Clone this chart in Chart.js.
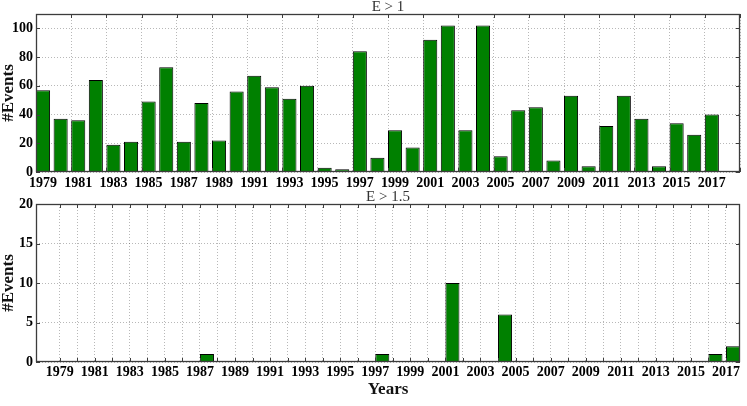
<!DOCTYPE html>
<html>
<head>
<meta charset="utf-8">
<script src="https://cdn.jsdelivr.net/npm/chart.js@4.4.1/dist/chart.umd.min.js"></script>
<style>
  html,body{margin:0;padding:0;background:#fff;}
  #wrap{position:relative;width:747px;height:406px;overflow:hidden;background:#fff;}
  .panel{position:absolute;left:0;width:747px;}
  #top{top:0;height:195px;}
  #bottom{top:190px;height:216px;}
</style>
</head>
<body>
<div id="wrap">
  <div class="panel" id="top"><canvas id="chartTop"></canvas></div>
  <div class="panel" id="bottom"><canvas id="chartBottom"></canvas></div>
</div>
<script>
/* ---------------------------------
   Data
--------------------------------- */
const years = [1979,1980,1981,1982,1983,1984,1985,1986,1987,1988,
               1989,1990,1991,1992,1993,1994,1995,1996,1997,1998,
               1999,2000,2001,2002,2003,2004,2005,2006,2007,2008,
               2009,2010,2011,2012,2013,2014,2015,2016,2017];

// E > 1
const eventsE1 = [57,37,36,64,19,21,49,73,21,48,
                  22,56,67,59,51,60,3,2,84,10,
                  29,17,92,102,29,102,11,43,45,8,
                  53,4,32,53,37,4,34,26,40];

// E > 1.5
const eventsE15 = [0,0,0,0,0,0,0,0,1,0,
                   0,0,0,0,0,0,0,0,1,0,
                   0,0,10,0,0,6,0,0,0,0,
                   0,0,0,0,0,0,0,1,2];

const xTickLabels = ["1979","1981","1983","1985","1987","1989","1991","1993","1995","1997",
                     "1999","2001","2003","2005","2007","2009","2011","2013","2015","2017"];
const yTicksTop = [0,20,40,60,80,100];
const yTicksBottom = [0,5,10,15,20];

/* ---------------------------------
   Shared style
--------------------------------- */
const SERIF = '"Liberation Serif", "Times New Roman", serif';
const GREEN = "#008000";
const BAR_W = 0.8;          // bars drawn edge-aligned, like matplotlib align='edge'

function toPoints(vals){
  return years.map((y,i)=>({ x: y + BAR_W/2, y: vals[i] }));
}

// axes frame + inward tick marks
const frame = {
  id: "frame",
  afterDraw(chart){
    const {ctx, chartArea:a, scales} = chart;
    ctx.save();
    ctx.strokeStyle = "#3c3c3c";
    ctx.lineWidth = 1;
    ctx.beginPath();
    scales.x.ticks.forEach(t=>{
      const px = Math.round(scales.x.getPixelForValue(t.value)) + 0.5;
      ctx.moveTo(px, a.top); ctx.lineTo(px, a.top + 4);
      ctx.moveTo(px, a.bottom); ctx.lineTo(px, a.bottom - 4);
    });
    scales.y.ticks.forEach(t=>{
      const py = Math.round(scales.y.getPixelForValue(t.value)) + 0.5;
      ctx.moveTo(a.left, py); ctx.lineTo(a.left + 4, py);
      ctx.moveTo(a.right, py); ctx.lineTo(a.right - 4, py);
    });
    ctx.stroke();
    ctx.lineWidth = 1.3;
    ctx.strokeRect(Math.round(a.left)+0.5, Math.round(a.top)+0.5,
                   Math.round(a.width)-1, Math.round(a.height)-1);
    ctx.restore();
  }
};

function makePanel(canvasId, opts){
  return new Chart(document.getElementById(canvasId), {
    type: "bar",
    data: {
      datasets: [{
        data: toPoints(opts.values),
        backgroundColor: GREEN,
        borderColor: "#000",
        borderWidth: 1,
        borderSkipped: "start",
        barPercentage: BAR_W,
        categoryPercentage: 1
      }]
    },
    options: {
      responsive: true,
      maintainAspectRatio: false,
      animation: false,
      layout: { padding: { left: 0, right: 7, top: 0, bottom: 0 } },
      plugins: {
        legend: { display: false },
        tooltip: { enabled: false },
        title: {
          display: true,
          text: opts.title,
          fullSize: false,
          color: "#333",
          font: { family: SERIF, size: 15, weight: "normal", lineHeight: 14/15 },
          padding: 0
        }
      },
      scales: {
        x: {
          type: "linear",
          offset: false,
          min: opts.xMin,
          max: opts.xMax,
          afterBuildTicks: s => { s.ticks = opts.xTicks.map(v => ({ value: v })); },
          afterFit: s => { s.height = opts.xHeight; },
          grid: { offset: false, color: "rgba(0,0,0,0.28)", lineWidth: 1, drawTicks: false },
          border: { display: false, dash: [1,2] },
          ticks: {
            autoSkip: false,
            maxRotation: 0,
            padding: opts.xPad,
            labelOffset: opts.labelOffset,
            color: "#000",
            font: { family: SERIF, size: 14, weight: "bold" },
            callback: v => xTickLabels.includes(String(v)) ? String(v) : ""
          },
          title: opts.xTitle ? {
            display: true,
            text: opts.xTitle,
            color: "#111",
            font: { family: SERIF, size: 17, weight: "bold" },
            padding: { top: 0, bottom: 6 }
          } : { display: false }
        },
        y: {
          min: 0,
          max: opts.yMax,
          afterBuildTicks: s => { s.ticks = opts.yTicks.map(v => ({ value: v })); },
          afterFit: s => { s.width = 36; },
          grid: { color: "rgba(0,0,0,0.28)", lineWidth: 1, drawTicks: false },
          border: { display: false, dash: [1,2] },
          ticks: {
            padding: 3,
            color: "#000",
            font: { family: SERIF, size: 14, weight: "bold" }
          },
          title: {
            display: true,
            text: "#Events",
            color: "#111",
            font: { family: SERIF, size: 17, weight: "bold", lineHeight: 1 },
            padding: 0
          }
        }
      }
    },
    plugins: [frame]
  });
}

/* ---------------------------------
   Main
--------------------------------- */
// top panel: ticks on the labelled years, plus the right-hand limit
makePanel("chartTop", {
  values: eventsE1,
  title: "E > 1",
  xMin: 1979, xMax: 2019,
  xTicks: xTickLabels.map(Number).concat([2019]),
  xHeight: 23, xPad: 3, labelOffset: 7,
  yMax: 110, yTicks: yTicksTop
});

// bottom panel: a grid line on every year
makePanel("chartBottom", {
  values: eventsE15,
  title: "E > 1.5",
  xMin: 1977.65, xMax: 2017.8,
  xTicks: years,
  xHeight: 44, xPad: 2, labelOffset: 0,
  xTitle: "Years",
  yMax: 20, yTicks: yTicksBottom
});
</script>
</body>
</html>
